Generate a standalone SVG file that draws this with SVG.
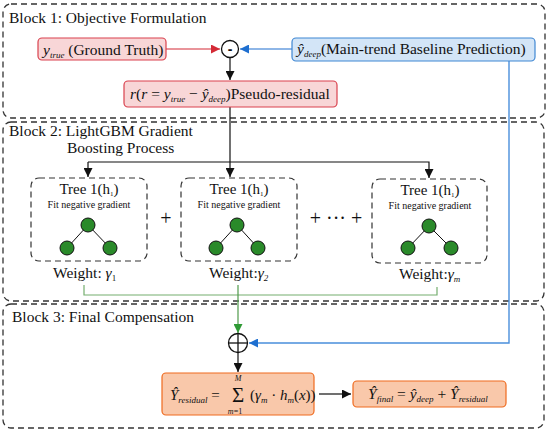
<svg xmlns="http://www.w3.org/2000/svg" width="550" height="434" viewBox="0 0 550 434" font-family="'Liberation Serif', 'Times New Roman', serif">
<defs>
<style>
text{font-family:'Liberation Serif','Times New Roman',serif}
.t{fill:#111;font-size:15.5px}
.i{font-style:italic}
.sub{font-style:italic;font-size:9px}
.blk{fill:none;stroke:#333;stroke-width:1.3;stroke-dasharray:6 4}
.tree{fill:none;stroke:#333;stroke-width:1.2;stroke-dasharray:6 4}
.nd{fill:#2a8a2a;stroke:#111;stroke-width:1}
.ed{stroke:#111;stroke-width:1}
.red{fill:#f8d6d7;stroke:#d9414e;stroke-width:1.2}
.blu{fill:#d3e5f7;stroke:#3f87d3;stroke-width:1.2}
.org{fill:#f9c8aa;stroke:#ef6a1e;stroke-width:1.2}
</style>
<marker id="ak" viewBox="0 0 10 10" refX="10" refY="5" markerWidth="9" markerHeight="9" markerUnits="userSpaceOnUse" orient="auto"><path d="M0,0 L10,5 L0,10 z" fill="#111"/></marker>
<marker id="ar" viewBox="0 0 10 10" refX="10" refY="5" markerWidth="9" markerHeight="9" markerUnits="userSpaceOnUse" orient="auto"><path d="M0,0 L10,5 L0,10 z" fill="#d42a36"/></marker>
<marker id="ablu" viewBox="0 0 10 10" refX="10" refY="5" markerWidth="9" markerHeight="9" markerUnits="userSpaceOnUse" orient="auto"><path d="M0,0 L10,5 L0,10 z" fill="#1e6fd0"/></marker>
<marker id="ag" viewBox="0 0 10 10" refX="10" refY="5" markerWidth="9" markerHeight="9" markerUnits="userSpaceOnUse" orient="auto"><path d="M0,0 L10,5 L0,10 z" fill="#2f9a35"/></marker>
</defs>
<rect width="550" height="434" fill="#fff"/>

<g id="block1">
<rect class="blk" x="3" y="4" width="542" height="114" rx="8"/>
<text class="t" x="9" y="23">Block 1: Objective Formulation</text>
</g>
<g id="block2">
<rect class="blk" x="3" y="122" width="541" height="179" rx="8"/>
<text class="t" x="9" y="136">Block 2: LightGBM Gradient</text>
<text class="t" x="67" y="153">Boosting Process</text>
</g>
<g id="block3">
<rect class="blk" x="3" y="304" width="541" height="124" rx="8"/>
<text class="t" x="12" y="322">Block 3: Final Compensation</text>
</g>

<g id="connectors" fill="none">
<line x1="166" y1="49" x2="220" y2="49" stroke="#d42a36" stroke-width="1.2" marker-end="url(#ar)"/>
<line x1="292" y1="49" x2="240" y2="49" stroke="#1e6fd0" stroke-width="1.2" marker-end="url(#ablu)"/>
<line x1="230" y1="58" x2="230" y2="80" stroke="#111" stroke-width="1.2" marker-end="url(#ak)"/>
<line x1="230" y1="107" x2="230" y2="177" stroke="#111" stroke-width="1.2" marker-end="url(#ak)"/>
<polyline points="88,162 429,162 429,178" stroke="#111" stroke-width="1.2" marker-end="url(#ak)"/>
<line x1="88" y1="162" x2="88" y2="177" stroke="#111" stroke-width="1.2" marker-end="url(#ak)"/>
<polyline points="509,61 509,343 249,343" stroke="#4a8fdc" stroke-width="1.4" marker-end="url(#ablu)"/>
<polyline points="84,285 84,295 437,295 437,287" stroke="#74ae6e" stroke-width="1.2"/>
<line x1="238" y1="285" x2="238" y2="333" stroke="#4f9a4a" stroke-width="1.2" marker-end="url(#ag)"/>
<line x1="238" y1="353" x2="238" y2="372" stroke="#111" stroke-width="1.2" marker-end="url(#ak)"/>
<line x1="319" y1="394" x2="351" y2="394" stroke="#111" stroke-width="1.2" marker-end="url(#ak)"/>
</g>

<g id="ytrue">
<rect class="red" x="38" y="38" width="128" height="22" rx="4"/>
<text class="t" x="43" y="55"><tspan class="i">y</tspan><tspan class="sub" dy="3">true</tspan><tspan dy="-3"> (Ground Truth)</tspan></text>
</g>
<g id="minus">
<circle cx="230" cy="49" r="8.5" fill="#fff" stroke="#111" stroke-width="1.3"/>
<text x="230" y="54" text-anchor="middle" style="font-family:'Liberation Sans',sans-serif" font-weight="bold" font-size="14" fill="#111">-</text>
</g>
<g id="ydeep">
<rect class="blu" x="292" y="38" width="243" height="23" rx="4"/>
<text class="t" x="297" y="54"><tspan class="i">ŷ</tspan><tspan class="sub" dy="3">deep</tspan><tspan dy="-3">(Main-trend Baseline Prediction)</tspan></text>
</g>
<g id="residual">
<rect class="red" x="124" y="81" width="213" height="26" rx="4"/>
<text class="t" x="130" y="99"><tspan class="i">r</tspan>(<tspan class="i">r</tspan> = <tspan class="i">y</tspan><tspan class="sub" dy="3">true</tspan><tspan dy="-3"> − </tspan><tspan class="i">ŷ</tspan><tspan class="sub" dy="3">deep</tspan><tspan dy="-3">)Pseudo-residual</tspan></text>
</g>

<g id="tree1">
<rect class="tree" x="31" y="178" width="116" height="83" rx="8"/>
<text class="t" x="89" y="194" text-anchor="middle" style="font-size:15px">Tree 1(h<tspan font-size="7" dy="2">1</tspan><tspan dy="-2">)</tspan></text>
<text class="t" x="89" y="208" text-anchor="middle" style="font-size:10px">Fit negative gradient</text>
<line class="ed" x1="88" y1="225" x2="67" y2="248"/>
<line class="ed" x1="88" y1="225" x2="110" y2="248"/>
<circle class="nd" cx="88" cy="225" r="7"/>
<circle class="nd" cx="67" cy="248" r="7"/>
<circle class="nd" cx="110" cy="248" r="7"/>
<text class="t" x="53" y="278">Weight: <tspan class="i">γ</tspan><tspan font-size="9" dy="3">1</tspan></text>
</g>
<g id="tree2">
<rect class="tree" x="181" y="178" width="116" height="83" rx="8"/>
<text class="t" x="239" y="194" text-anchor="middle" style="font-size:15px">Tree 1(h<tspan font-size="7" dy="2">1</tspan><tspan dy="-2">)</tspan></text>
<text class="t" x="239" y="208" text-anchor="middle" style="font-size:10px">Fit negative gradient</text>
<line class="ed" x1="237" y1="225" x2="216" y2="248"/>
<line class="ed" x1="237" y1="225" x2="258" y2="248"/>
<circle class="nd" cx="237" cy="225" r="7"/>
<circle class="nd" cx="216" cy="248" r="7"/>
<circle class="nd" cx="258" cy="248" r="7"/>
<text class="t" x="209" y="278">Weight:<tspan class="i">γ</tspan><tspan class="sub" dy="3">2</tspan></text>
</g>
<g id="treem">
<rect class="tree" x="372" y="179" width="115" height="84" rx="8"/>
<text class="t" x="430" y="195" text-anchor="middle" style="font-size:15px">Tree 1(h<tspan font-size="7" dy="2">1</tspan><tspan dy="-2">)</tspan></text>
<text class="t" x="430" y="209" text-anchor="middle" style="font-size:10px">Fit negative gradient</text>
<line class="ed" x1="429" y1="226" x2="408" y2="248"/>
<line class="ed" x1="429" y1="226" x2="451" y2="248"/>
<circle class="nd" cx="429" cy="226" r="7"/>
<circle class="nd" cx="408" cy="248" r="7"/>
<circle class="nd" cx="451" cy="248" r="7"/>
<text class="t" x="399" y="279">Weight:<tspan class="i">γ</tspan><tspan class="sub" dy="3">m</tspan></text>
</g>
<g id="plus-signs">
<text class="t" x="166" y="225" text-anchor="middle" style="font-size:20px">+</text>
<text class="t" x="336" y="225" text-anchor="middle" style="font-size:20px">+ ··· +</text>
</g>

<g id="sum">
<circle cx="238" cy="343" r="9.5" fill="#fff" stroke="#111" stroke-width="1.3"/>
<line x1="228.5" y1="343" x2="247.5" y2="343" stroke="#111" stroke-width="1.3"/>
<line x1="238" y1="333.5" x2="238" y2="352.5" stroke="#111" stroke-width="1.3"/>
</g>

<g id="yresidual">
<rect class="org" x="162" y="373" width="152" height="42" rx="4"/>
<text class="t" x="170" y="400" style="font-size:15px"><tspan class="i">Ŷ</tspan><tspan class="sub" dy="3">residual</tspan><tspan dy="-3"> =</tspan></text>
<text class="t" x="238" y="402" text-anchor="middle" style="font-size:21px">Σ</text>
<text class="t i" x="238" y="380.5" text-anchor="middle" style="font-size:8px">M</text>
<text class="t" x="235" y="414" text-anchor="middle" style="font-size:8px"><tspan class="i">m</tspan>=1</text>
<text class="t" x="250" y="400" style="font-size:15px">(<tspan class="i">γ</tspan><tspan class="sub" dy="3">m</tspan><tspan dy="-3"> · </tspan><tspan class="i">h</tspan><tspan class="sub" dy="3">m</tspan><tspan dy="-3">(</tspan><tspan class="i">x</tspan>))</text>
</g>
<g id="yfinal">
<rect class="org" x="353" y="381" width="153" height="26" rx="4"/>
<text class="t" x="368" y="399"><tspan class="i">Ŷ</tspan><tspan class="sub" dy="3">final</tspan><tspan dy="-3"> = </tspan><tspan class="i">ŷ</tspan><tspan class="sub" dy="3">deep</tspan><tspan dy="-3"> + </tspan><tspan class="i">Ŷ</tspan><tspan class="sub" dy="3">residual</tspan></text>
</g>
</svg>
